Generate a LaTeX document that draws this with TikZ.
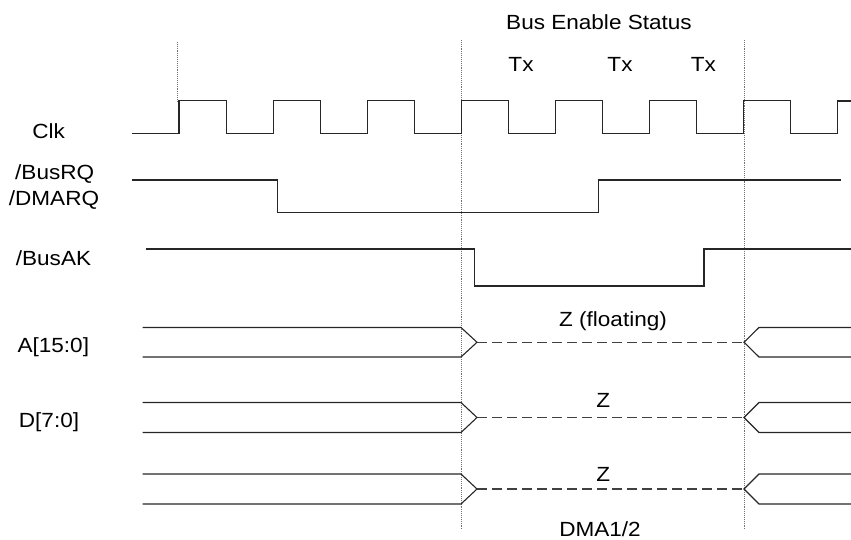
\documentclass[tikz,border=0pt]{standalone}
\usepackage{fontspec}
\setmainfont{Liberation Sans}[FakeStretch=1.1]
\begin{document}
\begin{tikzpicture}[x=1pt,y=-1pt,
  wave/.style={line width=1.1pt,draw=black!85,line join=miter},
  guide/.style={densely dotted,line width=0.9pt,draw=black!55},
  float/.style={line width=1.1pt,draw=black!75,dash pattern=on 10pt off 5pt},
  lbl/.style={anchor=base,inner sep=0pt,font=\fontsize{20.5}{24}\selectfont}]
\useasboundingbox (0,0) rectangle (851,540);
% guide lines
\draw[guide] (177,42) -- (177,101);
\draw[guide] (461,40) -- (461,530);
\draw[guide] (744,40) -- (744,530);
% clock
\draw[wave] (131.7,133.5)
  \foreach \k in {0,...,6} {
    -- ({179+94.1*\k},133.5) -- ({179+94.1*\k},100.5)
    -- ({226.05+94.1*\k},100.5) -- ({226.05+94.1*\k},133.5) }
  -- (837.7,133.5) -- (837.7,101) -- (851,101);
% BusRQ / DMARQ
\draw[wave] (131.7,180) -- (277.7,180) -- (277.7,212.5) -- (598.3,212.5)
  -- (598.3,180) -- (841,180);
% BusAK
\draw[wave] (145.5,249) -- (474.3,249) -- (474.3,286) -- (704,286)
  -- (704,249) -- (851,249);
% buses
\foreach \t/\b in {327.5/357, 402.5/432.5, 474/504} {
  \pgfmathsetmacro{\m}{(\t+\b)/2}
  \draw[wave] (142.5,\t) -- (461,\t) -- (477,\m) -- (461,\b) -- (142.5,\b);
  \draw[float] (477,\m) -- (744,\m);
  \draw[wave] (851,\t) -- (759,\t) -- (744,\m) -- (759,\b) -- (851,\b);
}
% labels
\node[lbl] (bes) at (599,30) {Bus Enable Status};
\node[lbl] (tx1) at (521,71.5) {Tx};
\node[lbl] (tx2) at (620,71.5) {Tx};
\node[lbl] (tx3) at (703.3,71.5) {Tx};
\node[lbl] (clk) at (48.7,139) {Clk};
\node[lbl] (busrq) at (54.7,180) {/BusRQ};
\node[lbl] (dmarq) at (54,205) {/DMARQ};
\node[lbl] (busak) at (53.5,265.3) {/BusAK};
\node[lbl] (addr) at (53.3,352.3) {A[15:0]};
\node[lbl] (data) at (49,427.3) {D[7:0]};
\node[lbl] (zf) at (613,326) {Z (floating)};
\node[lbl] (z1) at (603.3,407.3) {Z};
\node[lbl] (z2) at (603.3,481) {Z};
\node[lbl] (dma) at (600,536) {DMA1/2};
\end{tikzpicture}
\end{document}
